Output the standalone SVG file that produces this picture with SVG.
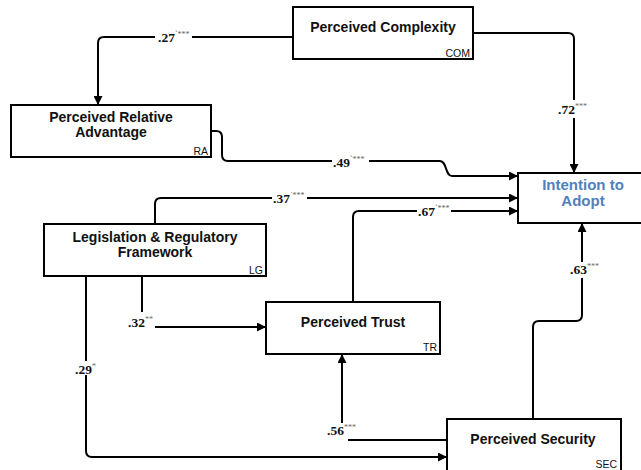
<svg xmlns="http://www.w3.org/2000/svg" width="641" height="470" viewBox="0 0 641 470">
  <style>
    .box { fill: #ffffff; stroke: #000000; stroke-width: 2; }
    .title { font-family: "Liberation Sans", Arial, sans-serif; font-weight: bold; font-size: 14px; fill: #111111; text-anchor: middle; }
    .target { font-family: "Liberation Sans", Arial, sans-serif; font-weight: bold; font-size: 15px; fill: #4F81BD; text-anchor: middle; }
    .code { font-family: "Liberation Sans", Arial, sans-serif; font-size: 10.5px; fill: #111111; text-anchor: end; }
    .link { fill: none; stroke: #000000; stroke-width: 2; }
    .arrow { marker-end: url(#head); }
    .coef { font-family: "Liberation Serif", "Times New Roman", serif; font-weight: bold; font-size: 13.5px; fill: #111111; }
    .sig { font-size: 8px; fill: #666666; font-weight: normal; }
    .bg { fill: #ffffff; }
  </style>
  <defs>
    <marker id="head" viewBox="0 0 10 10" refX="10" refY="5" markerWidth="9" markerHeight="9" markerUnits="userSpaceOnUse" orient="auto">
      <path d="M0,0 L10,5 L0,10 z" fill="#000000"/>
    </marker>
  </defs>

  <!-- paths between constructs -->
  <g id="connectors">
    <path class="link arrow" d="M293,37 H104 Q98,37 98,43 V105"/>
    <path class="link arrow" d="M473,33 H568 Q574,33 574,39 V173"/>
    <path class="link arrow" d="M211,131 H216 Q222,131 222,137 V155 Q222,161 228,161 H440 C447,161 445,176 452,176 H518"/>
    <path class="link arrow" d="M155,224 V204 Q155,198 161,198 H518"/>
    <path class="link" d="M142,276 V312"/>
    <path class="link arrow" d="M155,327 H266"/>
    <path class="link arrow" d="M86,276 V451 Q86,457 92,457 H447"/>
    <path class="link" d="M447,440 H348"/>
    <path class="link arrow" d="M342,423 V354"/>
    <path class="link arrow" d="M353,302 V217 Q353,211 359,211 H518"/>
    <path class="link arrow" d="M533,419 V327 Q533,321 539,321 H576 Q582,321 582,315 V223"/>
  </g>

  <!-- path coefficients -->
  <g id="coefficients">
    <rect class="bg" x="155" y="30" width="37" height="14"/>
    <text class="coef" x="158" y="42">.27<tspan class="sig" dy="-5">`***</tspan></text>

    <rect class="bg" x="556" y="100" width="36" height="18"/>
    <text class="coef" x="558" y="114">.72<tspan class="sig" dy="-5">***</tspan></text>

    <rect class="bg" x="332" y="154" width="37" height="14"/>
    <text class="coef" x="333" y="167">.49<tspan class="sig" dy="-5">`***</tspan></text>

    <rect class="bg" x="272" y="191" width="35" height="14"/>
    <text class="coef" x="273" y="203">.37<tspan class="sig" dy="-5">˙***</tspan></text>

    <rect class="bg" x="417" y="204" width="34" height="14"/>
    <text class="coef" x="418" y="216">.67<tspan class="sig" dy="-5">`***</tspan></text>

    <text class="coef" x="128" y="327">.32<tspan class="sig" dy="-5">**</tspan></text>

    <rect class="bg" x="74" y="361" width="22" height="14"/>
    <text class="coef" x="75" y="374">.29<tspan class="sig" dy="-5">*</tspan></text>

    <text class="coef" x="327" y="435">.56<tspan class="sig" dy="-5">***</tspan></text>

    <rect class="bg" x="568" y="262" width="34" height="16"/>
    <text class="coef" x="570" y="274">.63<tspan class="sig" dy="-5">***</tspan></text>
  </g>

  <!-- constructs -->
  <g id="com">
    <rect class="box" x="293" y="7" width="180" height="52"/>
    <text class="title" x="383" y="32">Perceived Complexity</text>
    <text class="code" x="470" y="57">COM</text>
  </g>
  <g id="ra">
    <rect class="box" x="11" y="105" width="200" height="52"/>
    <text class="title" x="111" y="122">Perceived Relative</text>
    <text class="title" x="111" y="137">Advantage</text>
    <text class="code" x="208" y="155">RA</text>
  </g>
  <g id="ita">
    <rect class="box" x="518" y="173" width="130" height="50"/>
    <text class="target" x="583" y="190">Intention to</text>
    <text class="target" x="583" y="206">Adopt</text>
  </g>
  <g id="lg">
    <rect class="box" x="44" y="224" width="222" height="52"/>
    <text class="title" x="155" y="242">Legislation &amp; Regulatory</text>
    <text class="title" x="155" y="257">Framework</text>
    <text class="code" x="263" y="274">LG</text>
  </g>
  <g id="tr">
    <rect class="box" x="266" y="302" width="174" height="52"/>
    <text class="title" x="353" y="327">Perceived Trust</text>
    <text class="code" x="437" y="351">TR</text>
  </g>
  <g id="sec">
    <rect class="box" x="447" y="419" width="174" height="56"/>
    <text class="title" x="533" y="444">Perceived Security</text>
    <text class="code" x="617" y="468">SEC</text>
  </g>
</svg>
